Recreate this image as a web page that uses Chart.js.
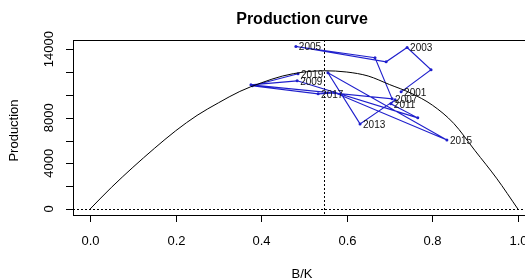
<!DOCTYPE html>
<html>
<head>
<meta charset="utf-8">
<script src="https://cdn.jsdelivr.net/npm/chart.js@4.4.0/dist/chart.umd.min.js"></script>
<style>
  body { margin: 0; overflow: hidden; background: #fff; }
  #wrap { width: 545px; height: 280px; }
</style>
</head>
<body>
<div id="wrap"><canvas id="myChart" width="545" height="280"></canvas></div>
<script>
// production curve
let curveBK = [0, 0.05, 0.1, 0.15, 0.2, 0.25, 0.3, 0.35, 0.4, 0.45, 0.5, 0.547, 0.6, 0.65, 0.7, 0.75, 0.8, 0.85, 0.9, 0.95, 1.0];
let curveProd = [0, 1900, 3650, 5300, 6850, 8200, 9300, 10300, 11050, 11650, 12000, 12110, 12000, 11650, 10900, 10150, 9100, 7500, 5100, 2700, 0];

// yearly trajectory
let years = [2001, 2002, 2003, 2004, 2005, 2006, 2007, 2008, 2009, 2010, 2011, 2012, 2013, 2014, 2015, 2016, 2017, 2018, 2019];
let yearBK = [0.727, 0.797, 0.741, 0.692, 0.481, 0.666, 0.706, 0.376, 0.484, 0.766, 0.703, 0.713, 0.631, 0.556, 0.834, 0.572, 0.533, 0.379, 0.486];
let yearProd = [10263, 12193, 14150, 12895, 14230, 13246, 9649, 10877, 11228, 7983, 9211, 9561, 7456, 11930, 6053, 10175, 10088, 10790, 11842];
let labelYears = [2001, 2003, 2005, 2007, 2009, 2011, 2013, 2015, 2017, 2019];

let bmsy = 0.547;
let xTicks = [0, 0.2, 0.4, 0.6, 0.8, 1.0];
let xTickLabels = ['0.0', '0.2', '0.4', '0.6', '0.8', '1.0'];
let yTicks = [0, 2000, 4000, 6000, 8000, 10000, 12000, 14000];
let yTickLabels = [0, 4000, 8000, 14000];

let curvePoints = [];
for (let i = 0; i < curveBK.length; i++) {
  curvePoints.push({x: curveBK[i], y: curveProd[i]});
}
let yearPoints = [];
for (let i = 0; i < years.length; i++) {
  yearPoints.push({x: yearBK[i], y: yearProd[i]});
}

const axisFont = '13px "Liberation Sans", Arial, sans-serif';

const rPlot = {
  id: 'rPlot',
  beforeDatasetsDraw(chart) {
    let ctx = chart.ctx;
    let a = chart.chartArea;
    let xs = chart.scales.x;
    let ys = chart.scales.y;
    ctx.save();
    ctx.strokeStyle = '#000';
    ctx.lineWidth = 1;
    ctx.setLineDash([2, 2]);
    let vx = Math.round(xs.getPixelForValue(bmsy)) + 0.5;
    ctx.beginPath();
    ctx.moveTo(vx, a.top);
    ctx.lineTo(vx, a.bottom);
    ctx.stroke();
    let hy = Math.round(ys.getPixelForValue(0)) + 0.5;
    ctx.beginPath();
    ctx.moveTo(a.left, hy);
    ctx.lineTo(a.right, hy);
    ctx.stroke();
    ctx.restore();
  },
  afterDraw(chart) {
    let ctx = chart.ctx;
    let a = chart.chartArea;
    let xs = chart.scales.x;
    let ys = chart.scales.y;
    ctx.save();
    ctx.strokeStyle = '#000';
    ctx.lineWidth = 1;
    ctx.setLineDash([]);
    ctx.strokeRect(Math.round(a.left) + 0.5, Math.round(a.top) + 0.5, Math.round(a.right - a.left), Math.round(a.bottom - a.top));

    // x axis
    ctx.fillStyle = '#000';
    ctx.font = axisFont;
    ctx.textAlign = 'center';
    ctx.textBaseline = 'middle';
    for (let i = 0; i < xTicks.length; i++) {
      let px = Math.round(xs.getPixelForValue(xTicks[i])) + 0.5;
      ctx.beginPath();
      ctx.moveTo(px, a.bottom);
      ctx.lineTo(px, a.bottom + 7);
      ctx.stroke();
      ctx.fillText(xTickLabels[i], px, a.bottom + 26);
    }
    ctx.fillText('B/K', (a.left + a.right) / 2 - 2, a.bottom + 59);

    // y axis
    for (let i = 0; i < yTicks.length; i++) {
      let py = Math.round(ys.getPixelForValue(yTicks[i])) + 0.5;
      ctx.beginPath();
      ctx.moveTo(a.left - 7, py);
      ctx.lineTo(a.left, py);
      ctx.stroke();
    }
    for (let i = 0; i < yTickLabels.length; i++) {
      let py = ys.getPixelForValue(yTickLabels[i]);
      ctx.save();
      ctx.translate(a.left - 24, py);
      ctx.rotate(-Math.PI / 2);
      ctx.fillText(String(yTickLabels[i]), 0, 0);
      ctx.restore();
    }
    ctx.save();
    ctx.translate(14, (a.top + a.bottom) / 2 + 3);
    ctx.rotate(-Math.PI / 2);
    ctx.fillText('Production', 0, 0);
    ctx.restore();

    // title
    ctx.font = 'bold 16px "Liberation Sans", Arial, sans-serif';
    ctx.fillText('Production curve', (a.left + a.right) / 2 - 2, 20);

    // year labels
    ctx.font = '10px "Liberation Sans", Arial, sans-serif';
    ctx.textAlign = 'left';
    ctx.fillStyle = '#111';
    for (let i = 0; i < years.length; i++) {
      if (labelYears.indexOf(years[i]) === -1) continue;
      let px = xs.getPixelForValue(yearBK[i]);
      let py = ys.getPixelForValue(yearProd[i]);
      ctx.fillText(String(years[i]), px + 3, py + 1);
    }
    ctx.restore();
  }
};

const config = {
  type: 'line',
  data: {
    datasets: [{
      label: 'curve',
      data: curvePoints,
      borderColor: '#000',
      borderWidth: 1,
      pointRadius: 0,
      cubicInterpolationMode: 'monotone',
      fill: false
    },
    {
      label: 'years',
      data: yearPoints,
      borderColor: '#1f1fcc',
      backgroundColor: '#1f1fcc',
      borderWidth: 1.1,
      pointRadius: 1.5,
      pointBorderWidth: 0,
      tension: 0,
      fill: false
    }]
  },
  options: {
    responsive: false,
    animation: false,
    events: [],
    layout: {
      padding: {left: 73, right: 10, top: 40, bottom: 65}
    },
    plugins: {
      legend: {display: false},
      tooltip: {enabled: false}
    },
    scales: {
      x: {type: 'linear', min: -0.04, max: 1.04, display: false},
      y: {type: 'linear', min: -526, max: 14805, display: false}
    }
  },
  plugins: [rPlot]
};

let canvasChart = document.getElementById('myChart');
new Chart(canvasChart, config);
</script>
</body>
</html>
